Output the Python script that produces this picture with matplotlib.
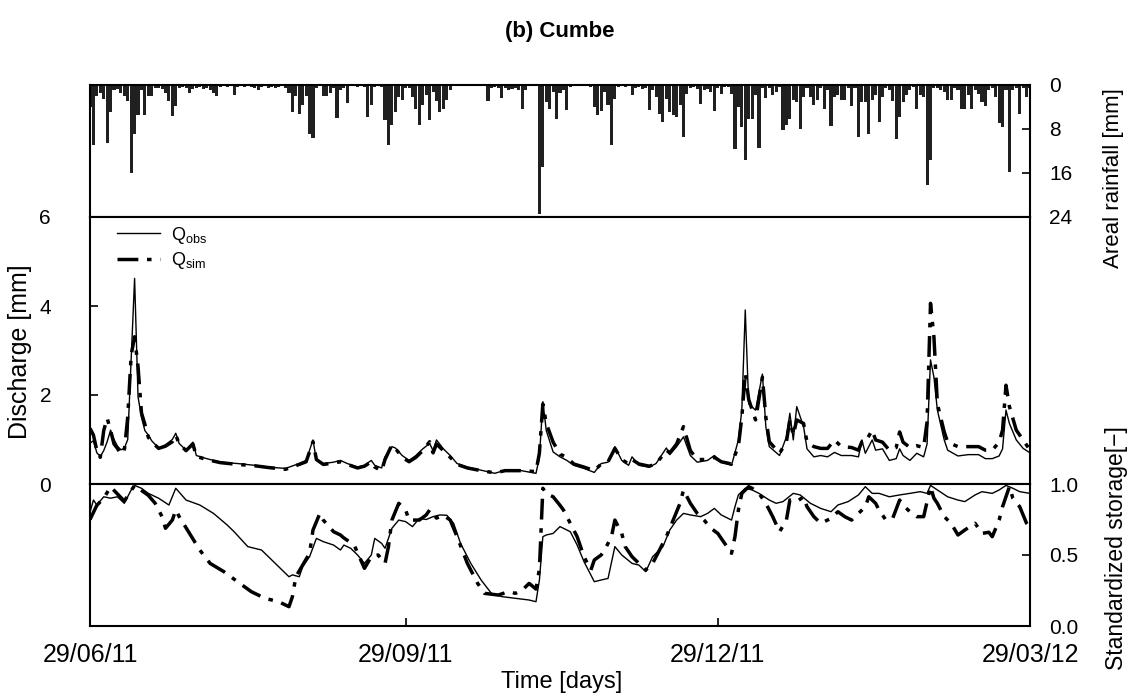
import numpy as np
import matplotlib
matplotlib.use('Agg')
import matplotlib.pyplot as plt
import matplotlib.dates as mdates

plt.rcParams['font.family'] = ['Liberation Sans', 'DejaVu Sans']

START = np.datetime64('2011-06-29')

# ---- daily areal rainfall [mm], day 0 = 29/06/11 ----
rain = [4, 11, 2, 1.5, 2.5, 10.5, 5, 1, 0.8, 1.5,
        2, 3, 16, 9, 5.5, 1, 5.4, 2, 2, 0.5,
        0.5, 0.8, 1.5, 3, 5.6, 3.8, 0.5, 0.3, 0.5, 1.5,
        0.8, 0.5, 0.3, 0.8, 0.5, 1, 1.5, 2, 0.3, 0.2,
        0.3, 0, 1.8, 0.3, 0.2, 0.3, 0.2, 0.3, 0.5, 1,
        0.3, 0.2, 0.5, 0.3, 0.5, 0.3, 0.2, 0.5, 1.5, 5,
        2, 5.2, 3.6, 2, 9, 9.6, 0.5, 0, 2, 2,
        1.5, 0.5, 6, 1, 0.5, 3.2, 0.2, 0.2, 0.3, 0.2,
        0.3, 5.8, 3.7, 0.3, 0.2, 0.3, 6.4, 11, 7.2, 4.9,
        2.2, 2.8, 0.5, 0.5, 2.2, 4.3, 7.3, 3.7, 1.9, 6.4,
        1.3, 3, 5, 4.3, 2.8, 1, 0, 0, 0, 0,
        0, 0, 0, 0, 0, 0, 3, 0.5, 0.3, 0.5,
        2.4, 0.5, 1, 0.8, 0.5, 1, 4.3, 1, 0, 0,
        0, 23.4, 15, 3.1, 4.3, 1.3, 6.1, 1.5, 1, 4.6,
        0.3, 0.2, 0, 0, 0.2, 0, 0.3, 4, 5.4, 4.8,
        1.3, 3.7, 11, 2.5, 0.3, 0.2, 0.3, 0.2, 1.9, 0.5,
        0.3, 0.8, 0.5, 4.6, 1, 2.2, 5.2, 6.7, 2.5, 4.9,
        5.5, 5.8, 3.7, 9.5, 1.6, 0.5, 0.3, 0.8, 3.4, 1,
        0.8, 1.2, 4.8, 0.5, 1.6, 0.3, 0.3, 1.6, 11.6, 4,
        7.6, 13.7, 6.1, 6.1, 1.9, 11.5, 0.5, 2.4, 0.5, 1.8,
        1.3, 0.3, 8.2, 7.3, 6.1, 2.8, 3.1, 8, 2.2, 0.5,
        2.2, 3.6, 2.8, 0.5, 4.3, 1, 7.5, 2.2, 1.9, 2.8,
        2.8, 0.5, 3.8, 0.5, 9.5, 3.1, 3.1, 8.9, 2.8, 1.9,
        6.7, 2.2, 0.5, 1, 3, 9.8, 5.8, 3.1, 1.9, 1,
        0.3, 4.3, 1.9, 2.2, 18.2, 13.7, 0.5, 0.5, 1, 1.3,
        2.8, 2.8, 0.5, 1, 4.4, 4.3, 1.9, 4.3, 1, 1.6,
        3.1, 3.8, 1, 0.5, 2.2, 7, 7.6, 1, 15.8, 1,
        0.5, 5.2, 0.5, 2.2, 0.5]

# ---- discharge [mm] ----
q_obs_days = [0, 1, 2, 3, 4, 5, 6, 7, 8, 9, 10, 11, 12, 13, 14, 15, 16, 17, 18, 20,
              22, 24, 25, 26, 28, 30, 31, 34, 38, 43, 48, 52, 57, 61, 63, 65, 66, 68, 71, 73,
              75, 78, 80, 82, 83, 85, 86, 88, 89, 91, 93, 95, 97, 99, 100, 101, 103, 105, 107, 110,
              114, 118, 121, 125, 130, 131, 132, 133, 135, 137, 139, 141, 144, 147, 149, 151, 153, 155, 157, 158,
              160, 163, 165, 168, 169, 171, 173, 175, 177, 180, 182, 184, 187, 189, 190, 191, 192, 194, 196, 197,
              198, 201, 203, 204, 205, 206, 208, 209, 211, 213, 215, 217, 219, 222, 224, 225, 226, 228, 229, 231,
              233, 235, 236, 237, 239, 241, 243, 244, 245, 246, 247, 249, 250, 253, 256, 259, 261, 263, 265, 266,
              267, 268, 270, 272, 274]
q_obs = [0.92, 0.97, 0.7, 0.62, 0.75, 0.95, 1.21, 1.0, 0.85, 0.77, 0.8, 1.0, 2.8, 4.62, 1.96, 1.5, 1.2, 1.1, 0.97, 0.81,
         0.88, 1.0, 1.14, 0.91, 0.76, 0.94, 0.64, 0.57, 0.49, 0.46, 0.42, 0.38, 0.35, 0.46, 0.53, 0.99, 0.53, 0.46, 0.49, 0.53,
         0.46, 0.38, 0.42, 0.53, 0.42, 0.36, 0.61, 0.84, 0.81, 0.64, 0.53, 0.64, 0.79, 0.91, 0.75, 0.99, 0.79, 0.64, 0.46, 0.38,
         0.31, 0.24, 0.31, 0.31, 0.24, 0.6, 1.85, 1.2, 0.72, 0.61, 0.53, 0.42, 0.35, 0.26, 0.46, 0.49, 0.84, 0.53, 0.42, 0.61,
         0.42, 0.38, 0.46, 0.81, 0.66, 0.84, 1.06, 0.64, 0.49, 0.53, 0.64, 0.49, 0.42, 0.99, 1.66, 3.91, 1.8, 1.66, 2.47, 1.29,
         0.84, 0.64, 1.06, 1.59, 0.99, 1.74, 1.29, 0.79, 0.61, 0.64, 0.61, 0.71, 0.64, 0.64, 0.61, 0.99, 0.69, 0.99, 0.76, 0.79,
         0.53, 0.57, 0.79, 0.64, 0.53, 0.69, 0.61, 0.9, 2.79, 2.4, 1.66, 0.99, 0.76, 0.63, 0.66, 0.66, 0.57, 0.57, 0.63, 0.79,
         1.66, 1.36, 0.99, 0.8, 0.7]
q_sim = [1.25, 1.1, 0.75, 0.6, 1.2, 1.48, 1.2, 0.9, 0.8, 0.67, 0.75, 1.5, 2.9, 3.31, 2.64, 1.6, 1.34, 1.05, 0.95, 0.8,
         0.85, 0.95, 1.1, 0.9, 0.75, 0.9, 0.62, 0.55, 0.48, 0.44, 0.41, 0.37, 0.33, 0.44, 0.5, 0.95, 0.55, 0.44, 0.47, 0.5,
         0.44, 0.36, 0.4, 0.5, 0.38, 0.3, 0.55, 0.88, 0.8, 0.6, 0.5, 0.6, 0.75, 0.95, 0.7, 0.9, 0.75, 0.6, 0.44, 0.36,
         0.3, 0.25, 0.3, 0.3, 0.28, 0.7, 1.8, 1.36, 0.94, 0.67, 0.6, 0.45, 0.38, 0.3, 0.45, 0.5, 0.8, 0.55, 0.45, 0.55,
         0.45, 0.4, 0.45, 0.76, 0.7, 0.9, 1.29, 0.75, 0.55, 0.55, 0.6, 0.5, 0.45, 0.85, 1.5, 2.49, 1.9, 1.44, 2.4, 1.5,
         0.95, 0.69, 0.95, 1.44, 1.1, 1.44, 1.36, 0.94, 0.84, 0.8, 0.8, 0.99, 0.84, 0.82, 0.76, 0.95, 0.94, 1.21, 0.99, 0.94,
         0.76, 0.82, 1.17, 0.94, 0.82, 0.86, 0.82, 1.4, 4.06, 3.3, 1.8, 1.17, 0.94, 0.84, 0.84, 0.84, 0.76, 0.76, 0.94, 1.21,
         2.22, 1.74, 1.21, 0.99, 0.76]

# ---- standardized storage [-] ----
s_obs_days = [0, 1, 2, 4, 6, 8, 10, 12, 13, 15, 17, 20, 23, 25, 28, 32, 36, 40, 42, 46,
              50, 54, 58, 59, 61, 62, 64, 66, 68, 71, 73, 74, 76, 78, 80, 82, 83, 85, 86, 88,
              90, 92, 94, 96, 98, 100, 102, 104, 106, 108, 111, 114, 117, 120, 124, 128, 130, 131, 132, 133,
              135, 137, 140, 142, 144, 147, 149, 151, 153, 155, 158, 160, 162, 164, 167, 169, 171, 173, 175, 178,
              180, 182, 184, 187, 188, 189, 191, 193, 195, 198, 200, 202, 205, 207, 210, 213, 216, 218, 221, 224,
              226, 228, 230, 233, 236, 239, 242, 244, 245, 247, 250, 253, 255, 258, 260, 263, 265, 267, 269, 271,
              274]
s_obs = [0.8, 0.887, 0.852, 0.91, 0.9, 0.91, 0.864, 0.958, 0.99, 0.97, 0.934, 0.9, 0.852, 0.97, 0.887, 0.852, 0.793, 0.711, 0.664, 0.559,
         0.535, 0.441, 0.347, 0.36, 0.347, 0.418, 0.488, 0.617, 0.594, 0.57, 0.535, 0.57, 0.547, 0.5, 0.441, 0.5, 0.617, 0.582, 0.547, 0.688,
         0.746, 0.735, 0.7, 0.758, 0.75, 0.77, 0.782, 0.78, 0.723, 0.582, 0.441, 0.324, 0.23, 0.207, 0.195, 0.183, 0.171, 0.324, 0.629, 0.641,
         0.652, 0.7, 0.664, 0.57, 0.453, 0.312, 0.324, 0.335, 0.559, 0.5, 0.441, 0.429, 0.383, 0.488, 0.559, 0.676, 0.746, 0.793, 0.782, 0.77,
         0.793, 0.828, 0.782, 0.746, 0.84, 0.923, 0.97, 0.958, 0.934, 0.887, 0.864, 0.876, 0.934, 0.923, 0.864, 0.828, 0.805, 0.852, 0.876, 0.923,
         0.981, 0.934, 0.934, 0.91, 0.923, 0.934, 0.946, 0.934, 0.99, 0.958, 0.91, 0.887, 0.876, 0.923, 0.946, 0.934, 0.958, 0.99, 0.97, 0.946,
         0.934]
s_sim_days = [0, 2, 4, 6, 8, 10, 13, 17, 19, 21, 22, 24, 25, 26, 29, 32, 35, 39, 43, 47,
              51, 55, 58, 59, 60, 62, 64, 65, 67, 68, 71, 73, 74, 77, 80, 82, 84, 86, 87, 88,
              90, 92, 93, 96, 98, 99, 101, 103, 105, 107, 110, 113, 115, 119, 122, 124, 126, 128, 130, 131,
              132, 133, 135, 137, 138, 140, 142, 144, 146, 147, 149, 150, 152, 153, 155, 156, 158, 160, 162, 164,
              166, 168, 170, 172, 173, 175, 177, 179, 181, 183, 185, 187, 188, 189, 190, 192, 193, 195, 197, 199,
              201, 203, 204, 206, 208, 209, 211, 213, 216, 218, 220, 222, 224, 226, 227, 229, 230, 232, 234, 236,
              237, 239, 241, 243, 245, 246, 247, 249, 251, 253, 255, 258, 260, 262, 263, 265, 266, 268, 269, 271,
              273, 274]
s_sim = [0.75, 0.85, 0.9, 0.98, 0.93, 0.88, 0.99, 0.92, 0.864, 0.77, 0.688, 0.746, 0.817, 0.77, 0.652, 0.535, 0.441, 0.383, 0.312, 0.242,
         0.195, 0.171, 0.136, 0.207, 0.347, 0.429, 0.512, 0.676, 0.793, 0.746, 0.664, 0.641, 0.62, 0.57, 0.406, 0.488, 0.5, 0.441, 0.559, 0.746,
         0.864, 0.817, 0.746, 0.746, 0.782, 0.817, 0.76, 0.78, 0.746, 0.629, 0.441, 0.3, 0.23, 0.218, 0.242, 0.23, 0.253, 0.3, 0.26, 0.4,
         0.97, 0.934, 0.91, 0.85, 0.817, 0.723, 0.629, 0.488, 0.394, 0.465, 0.5, 0.535, 0.629, 0.746, 0.652, 0.559, 0.488, 0.441, 0.394, 0.441,
         0.535, 0.629, 0.746, 0.864, 0.958, 0.864, 0.793, 0.746, 0.688, 0.652, 0.582, 0.512, 0.629, 0.817, 0.934, 0.981, 0.97, 0.934, 0.864, 0.77,
         0.664, 0.746, 0.887, 0.876, 0.91, 0.84, 0.77, 0.723, 0.758, 0.805, 0.77, 0.746, 0.793, 0.84, 0.91, 0.864, 0.817, 0.746, 0.76, 0.887,
         0.85, 0.805, 0.77, 0.77, 0.981, 0.9, 0.864, 0.77, 0.723, 0.641, 0.676, 0.723, 0.652, 0.66, 0.629, 0.746, 0.84, 0.981, 0.9, 0.84,
         0.723, 0.688]

xticks = ['2011-06-29', '2011-09-29', '2011-12-29', '2012-03-29']


def to_dates(days):
    return START + np.asarray(days).astype('timedelta64[D]')


rain_dates = to_dates(np.arange(len(rain)))
xt = [np.datetime64(t) for t in xticks]
XMIN, XMAX = xt[0], xt[-1]

W, H = 1136, 698
fig = plt.figure(figsize=(W / 100, H / 100), dpi=100)


def fax(x0, y0, x1, y1):
    return fig.add_axes([x0 / W, 1 - y1 / H, (x1 - x0) / W, (y1 - y0) / H])


L, R = 90, 1030
ax_r = fax(L, 85, R, 217)
ax_q = fax(L, 217, R, 484)
ax_s = fax(L, 484, R, 626)

TICKFS = 15
for ax in (ax_r, ax_q, ax_s):
    for sp in ax.spines.values():
        sp.set_linewidth(1.5)
    ax.set_xlim(XMIN, XMAX)
    ax.tick_params(direction='in', length=6, width=1.2, labelsize=TICKFS)

DASHDOT = (0, (6, 2.5, 1.3, 2.5))

# rainfall
ax_r.bar(rain_dates, rain, width=0.9, color='#202020', align='center')
ax_r.set_ylim(24, 0)
ax_r.yaxis.tick_right()
ax_r.set_yticks([0, 8, 16, 24])
ax_r.tick_params(axis='y', pad=14)
ax_r.set_xticks([])

# discharge
ax_q.plot(to_dates(q_obs_days), q_obs, color='black', lw=1.0, label=r'Q$_{\mathregular{obs}}$')
ax_q.plot(to_dates(q_obs_days), q_sim, color='black', lw=2.5,
          linestyle=DASHDOT, label=r'Q$_{\mathregular{sim}}$')
ax_q.set_ylim(0, 6)
ax_q.set_yticks([0, 2, 4, 6])
ax_q.tick_params(axis='y', pad=28)
ax_q.set_xticks([])
leg = ax_q.legend(loc='upper left', frameon=False, fontsize=13, handlelength=2.4,
                  handletextpad=0.6, labelspacing=0.25, borderaxespad=0.0,
                  borderpad=0.2, bbox_to_anchor=(0.025, 0.985))

# storage
ax_s.plot(to_dates(s_obs_days), s_obs, color='black', lw=1.0)
ax_s.plot(to_dates(s_sim_days), s_sim, color='black', lw=2.5, linestyle=DASHDOT)
ax_s.set_ylim(0, 1)
ax_s.yaxis.tick_right()
ax_s.set_yticks([0.0, 0.5, 1.0])
ax_s.set_yticklabels(['0.0', '0.5', '1.0'])
ax_s.tick_params(axis='y', pad=14)
ax_s.set_xticks(xt)
ax_s.xaxis.set_major_formatter(mdates.DateFormatter('%d/%m/%y'))
ax_s.tick_params(axis='x', pad=12, labelsize=18)

fig.text(560 / W, 1 - 31 / H, '(b) Cumbe', ha='center', va='center', fontsize=16, fontweight='bold')
fig.text(20 / W, 1 - 352 / H, 'Discharge [mm]', rotation=90, ha='center', va='center', fontsize=18)
fig.text(1114 / W, 1 - 178 / H, 'Areal rainfall [mm]', rotation=90, ha='center', va='center', fontsize=16)
fig.text(1116 / W, 1 - 548 / H, 'Standardized storage[\u2212]', rotation=90, ha='center', va='center', fontsize=16.5)
fig.text(562 / W, 1 - 682 / H, 'Time [days]', ha='center', va='center', fontsize=17)

fig.savefig('out.png', dpi=100)
